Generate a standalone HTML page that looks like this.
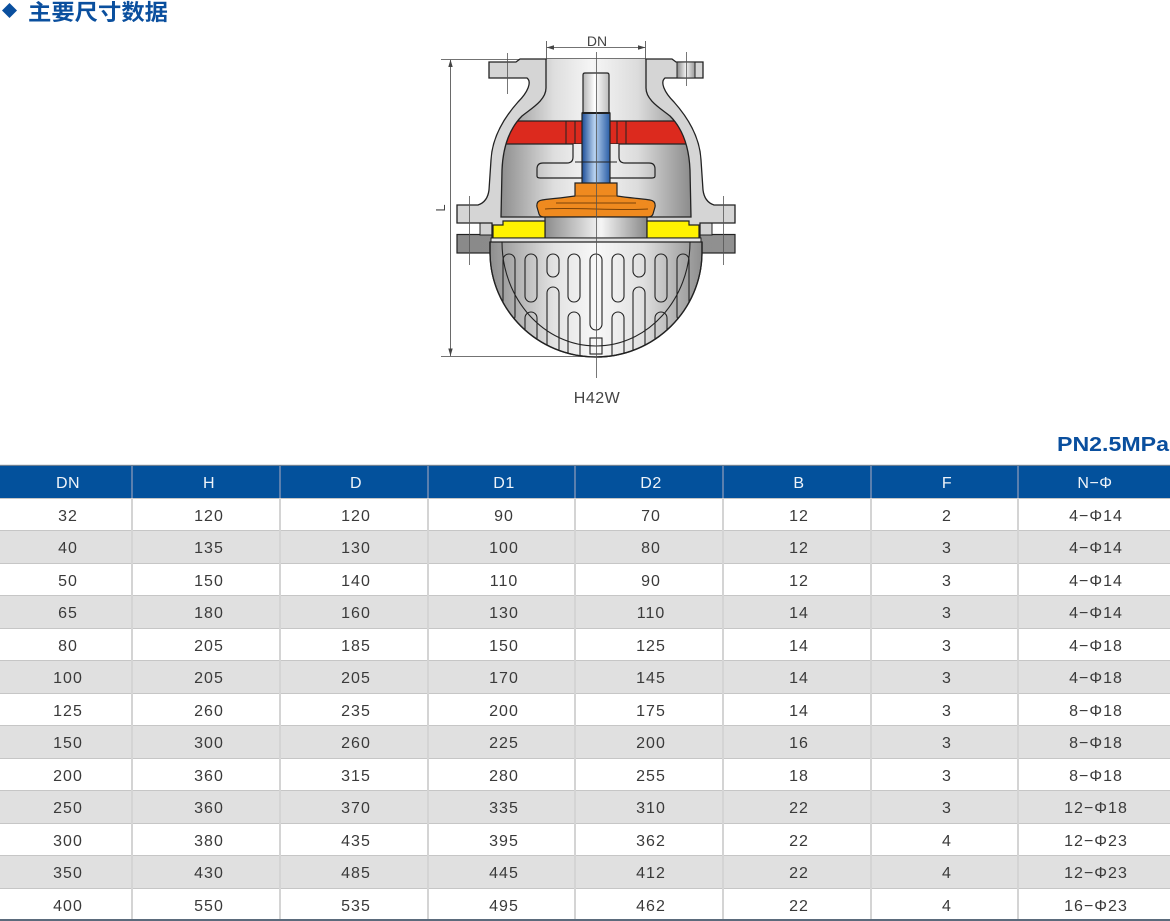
<!DOCTYPE html>
<html><head><meta charset="utf-8"><style>
html,body{margin:0;padding:0;background:#fff;width:1170px;height:921px;overflow:hidden}
svg{display:block}
</style></head><body>
<svg width="1170" height="921" viewBox="0 0 1170 921" xmlns="http://www.w3.org/2000/svg">
<defs>
<linearGradient id="gi" gradientUnits="userSpaceOnUse" x1="501" y1="0" x2="691" y2="0">
<stop offset="0" stop-color="#8e8e8e"/><stop offset="0.28" stop-color="#dedede"/><stop offset="0.48" stop-color="#f6f6f6"/><stop offset="0.72" stop-color="#dcdcdc"/><stop offset="1" stop-color="#8c8c8c"/>
</linearGradient>
<linearGradient id="gb" gradientUnits="userSpaceOnUse" x1="490" y1="0" x2="702" y2="0">
<stop offset="0" stop-color="#8e8e8e"/><stop offset="0.3" stop-color="#e2e2e2"/><stop offset="0.5" stop-color="#f8f8f8"/><stop offset="0.72" stop-color="#e0e0e0"/><stop offset="1" stop-color="#8e8e8e"/>
</linearGradient>
<linearGradient id="gs" gradientUnits="userSpaceOnUse" x1="545" y1="0" x2="647" y2="0">
<stop offset="0" stop-color="#8c8c8c"/><stop offset="0.55" stop-color="#f5f5f5"/><stop offset="1" stop-color="#888888"/>
</linearGradient>
<linearGradient id="gw" gradientUnits="userSpaceOnUse" x1="583" y1="0" x2="609" y2="0">
<stop offset="0" stop-color="#b5b5b5"/><stop offset="0.45" stop-color="#ffffff"/><stop offset="1" stop-color="#bdbdbd"/>
</linearGradient>
<linearGradient id="gbl" gradientUnits="userSpaceOnUse" x1="582" y1="0" x2="610" y2="0">
<stop offset="0" stop-color="#1c4d97"/><stop offset="0.45" stop-color="#b8d2ef"/><stop offset="1" stop-color="#2a5ea7"/>
</linearGradient>
<linearGradient id="gh" gradientUnits="userSpaceOnUse" x1="677" y1="0" x2="695" y2="0">
<stop offset="0" stop-color="#8a8a8a"/><stop offset="0.5" stop-color="#f2f2f2"/><stop offset="1" stop-color="#9a9a9a"/>
</linearGradient>
<linearGradient id="gd" gradientUnits="userSpaceOnUse" x1="457" y1="0" x2="735" y2="0">
<stop offset="0" stop-color="#8a8a8a"/><stop offset="1" stop-color="#909090"/>
</linearGradient>
<clipPath id="ci"><path d="M546,59 L546,88 C546,100 532,108 522,116 C510,128 503,145 502,170 L501,217 L691,217 L690,170 C689,145 682,128 670,116 C660,108 646,100 646,88 L646,59 Z"/></clipPath>
<clipPath id="cb"><path d="M490,242 L490,252 C490,310 537.5,357 596,357 C654.5,357 702,310 702,252 L702,242 Z"/></clipPath>
</defs>

<!-- Title -->
<rect x="4.2" y="5.2" width="10.6" height="10.6" transform="rotate(45 9.5 10.5)" fill="#0a4f9e"/>
<text x="28" y="20" font-size="22" font-weight="bold" fill="#0a4f9e" textLength="140" lengthAdjust="spacingAndGlyphs" font-family="'Liberation Sans','Noto Sans CJK SC',sans-serif">主要尺寸数据</text>

<!-- L dimension -->
<g stroke="#444" stroke-width="0.8" fill="none">
<line x1="441" y1="59.5" x2="548" y2="59.5"/>
<line x1="450.5" y1="60" x2="450.5" y2="356"/>
<line x1="441" y1="356.5" x2="600" y2="356.5"/>
</g>
<polygon points="450.5,59.5 448.3,67 452.7,67" fill="#444"/>
<polygon points="450.5,356 448.3,348.5 452.7,348.5" fill="#444"/>
<text x="445" y="208" font-size="13" fill="#444" transform="rotate(-90 445 208)" text-anchor="middle" font-family="'Liberation Sans',sans-serif">L</text>

<!-- dark lower flange -->
<rect x="457" y="234.5" width="278" height="18.5" fill="url(#gd)" stroke="#222" stroke-width="1.2"/>
<rect x="480" y="222" width="12" height="13" fill="#d3d3d3" stroke="#222" stroke-width="1"/>
<rect x="700" y="222" width="12" height="13" fill="#d3d3d3" stroke="#222" stroke-width="1"/>

<!-- outer wall -->
<path d="M489,62 L516,62 L520,59 L672,59 L676,62 L703,62 L703,78 L665,78 C660,82 664,92 674,102 C690,120 700,140 701,160 L703,190 C704,198 708,203 714,205 L735,205 L735,223 L700,223 L700,238 L492,238 L492,223 L457,223 L457,205 L478,205 C484,203 488,198 489,190 L491,160 C492,140 502,120 518,102 C528,92 532,82 527,78 L489,78 Z" fill="#d5d5d5" stroke="#222" stroke-width="1.3"/>

<!-- interior -->
<path d="M546,59 L546,88 C546,100 532,108 522,116 C510,128 503,145 502,170 L501,217 L691,217 L690,170 C689,145 682,128 670,116 C660,108 646,100 646,88 L646,59 Z" fill="url(#gi)"/>
<g clip-path="url(#ci)">
<rect x="480" y="121" width="232" height="23" fill="#dc2a1e"/>
<line x1="480" y1="121" x2="712" y2="121" stroke="#222" stroke-width="1.2"/>
<line x1="480" y1="144" x2="712" y2="144" stroke="#222" stroke-width="1.2"/>
</g>
<g stroke="#222" stroke-width="1">
<line x1="566" y1="121" x2="566" y2="144"/><line x1="575" y1="121" x2="575" y2="144"/>
<line x1="617" y1="121" x2="617" y2="144"/><line x1="626" y1="121" x2="626" y2="144"/>
</g>
<path d="M546,59 L546,88 C546,100 532,108 522,116 C510,128 503,145 502,170 L501,217 L691,217 L690,170 C689,145 682,128 670,116 C660,108 646,100 646,88 L646,59" fill="none" stroke="#222" stroke-width="1.3"/>

<!-- bracket -->
<path d="M573,144 L573,157 Q573,163 567,163 L543,163 Q537,163 537,169 L537,176 Q537,178 540,178 L652,178 Q655,178 655,176 L655,169 Q655,163 649,163 L625,163 Q619,163 619,157 L619,144" fill="url(#gi)" stroke="#222" stroke-width="1.2"/>

<!-- stem -->
<path d="M583,113 L583,75 Q583,73 585,73 L607,73 Q609,73 609,75 L609,113 Z" fill="url(#gw)" stroke="#222" stroke-width="1.2"/>
<rect x="582" y="113" width="28" height="71" fill="url(#gbl)" stroke="#222" stroke-width="1.2"/>
<line x1="582" y1="113" x2="610" y2="113" stroke="#222" stroke-width="2"/>
<line x1="575" y1="162" x2="617" y2="162" stroke="#222" stroke-width="1"/>

<!-- orange disc -->
<path d="M575,183 L617,183 L617,196 C630,198 645,199 650,200 Q656,201 655,207 L653,214 Q652,217 648,217 L544,217 Q540,217 539,214 L537,207 Q536,201 542,200 C547,199 562,198 575,196 Z" fill="#ef8a1f" stroke="#222" stroke-width="1.2"/>
<path d="M556,203 L636,203" stroke="#7a4208" stroke-width="1"/>
<path d="M545,209 C570,207 620,211 648,209" stroke="#7a4208" stroke-width="1" fill="none"/>
<line x1="575" y1="196" x2="617" y2="196" stroke="#7a4208" stroke-width="0.8"/>

<!-- seat cylinder -->
<rect x="545" y="217" width="102" height="21" fill="url(#gs)" stroke="#222" stroke-width="1.2"/>
<path d="M493,225 L503,225 L503,221 L545,221 L545,238 L493,238 Z" fill="#fff200" stroke="#222" stroke-width="1.2"/>
<path d="M699,225 L689,225 L689,221 L647,221 L647,238 L699,238 Z" fill="#fff200" stroke="#222" stroke-width="1.2"/>
<rect x="491" y="238" width="210" height="4" fill="#e4e4e4" stroke="#222" stroke-width="1"/>

<!-- bowl -->
<path d="M490,242 L490,252 C490,310 537.5,357 596,357 C654.5,357 702,310 702,252 L702,242 Z" fill="url(#gb)" stroke="#222" stroke-width="1.3"/>
<g clip-path="url(#cb)" fill="none" stroke="#222" stroke-width="1.1">
<path d="M502,242 C502,299 544,346 596,346 C648,346 690,299 690,242"/>
<rect x="503" y="254" width="12" height="68" rx="6"/>
<rect x="677" y="254" width="12" height="68" rx="6"/>
<rect x="525" y="254" width="12" height="48" rx="6"/>
<rect x="655" y="254" width="12" height="48" rx="6"/>
<rect x="547" y="254" width="12" height="23" rx="6"/>
<rect x="633" y="254" width="12" height="23" rx="6"/>
<rect x="568" y="254" width="12" height="48" rx="6"/>
<rect x="612" y="254" width="12" height="48" rx="6"/>
<rect x="590" y="254" width="12" height="76" rx="6"/>
<path d="M505,372 V336 A6,6 0 0 1 517,336 V372"/>
<path d="M675,372 V336 A6,6 0 0 1 687,336 V372"/>
<path d="M525,372 V318 A6,6 0 0 1 537,318 V372"/>
<path d="M655,372 V318 A6,6 0 0 1 667,318 V372"/>
<path d="M547,372 V293 A6,6 0 0 1 559,293 V372"/>
<path d="M633,372 V293 A6,6 0 0 1 645,293 V372"/>
<path d="M568,372 V318 A6,6 0 0 1 580,318 V372"/>
<path d="M612,372 V318 A6,6 0 0 1 624,318 V372"/>
<rect x="590" y="338" width="12" height="16"/>
</g>
<path d="M490,242 L490,252 C490,310 537.5,357 596,357 C654.5,357 702,310 702,252 L702,242" fill="none" stroke="#222" stroke-width="1.3"/>

<!-- right bolt hole -->
<rect x="677" y="62" width="18" height="16" fill="url(#gh)" stroke="#222" stroke-width="1"/>

<!-- centerlines -->
<g stroke="#555" stroke-width="0.8">
<line x1="596.5" y1="52" x2="596.5" y2="378"/>
<line x1="507.5" y1="53" x2="507.5" y2="94"/>
<line x1="686.5" y1="52" x2="686.5" y2="86"/>
<line x1="469.5" y1="196" x2="469.5" y2="265"/>
<line x1="723.5" y1="196" x2="723.5" y2="265"/>
</g>

<!-- DN dimension -->
<g stroke="#444" stroke-width="0.8">
<line x1="546.5" y1="41" x2="546.5" y2="60"/>
<line x1="645.5" y1="41" x2="645.5" y2="60"/>
<line x1="547" y1="47.5" x2="645" y2="47.5"/>
</g>
<polygon points="546.5,47.5 554,45.3 554,49.7" fill="#444"/>
<polygon points="645.5,47.5 638,45.3 638,49.7" fill="#444"/>
<text x="597" y="46" font-size="14" fill="#444" text-anchor="middle" font-family="'Liberation Sans',sans-serif">DN</text>

<text x="597" y="403" font-size="16" fill="#444" text-anchor="middle" letter-spacing="0.5" font-family="'Liberation Sans',sans-serif">H42W</text>

<!-- PN label -->
<text x="1057" y="451" font-size="20.5" font-weight="bold" fill="#0a4f9e" textLength="112" lengthAdjust="spacingAndGlyphs" font-family="'Liberation Sans',sans-serif">PN2.5MPa</text>

<!-- Table header -->
<rect x="0" y="464.8" width="1170" height="1.6" fill="#6d7f92"/>
<rect x="0" y="466" width="1170" height="32" fill="#03519c"/>
<g fill="#5a7fae">
<rect x="131" y="466" width="2" height="32"/><rect x="279" y="466" width="2" height="32"/><rect x="427" y="466" width="2" height="32"/><rect x="574" y="466" width="2" height="32"/><rect x="722" y="466" width="2" height="32"/><rect x="870" y="466" width="2" height="32"/><rect x="1017" y="466" width="2" height="32"/>
</g>
<g fill="#eef3f9" font-size="16" text-anchor="middle" font-family="'Liberation Sans',sans-serif" letter-spacing="0.5">
<text x="68" y="488">DN</text><text x="209" y="488">H</text><text x="356" y="488">D</text><text x="504" y="488">D1</text><text x="651" y="488">D2</text><text x="799" y="488">B</text><text x="947" y="488">F</text><text x="1095" y="488">N−Φ</text>
</g>

<!-- Table body backgrounds -->
<g fill="#e0e0e0">
<rect x="0" y="530" width="1170" height="33"/>
<rect x="0" y="595" width="1170" height="33"/>
<rect x="0" y="660" width="1170" height="33"/>
<rect x="0" y="725" width="1170" height="33"/>
<rect x="0" y="790" width="1170" height="33"/>
<rect x="0" y="855" width="1170" height="33"/>
</g>
<g fill="#c6c6c6">
<rect x="0" y="498" width="1170" height="1"/>
<rect x="0" y="530" width="1170" height="1"/><rect x="0" y="563" width="1170" height="1"/><rect x="0" y="595" width="1170" height="1"/><rect x="0" y="628" width="1170" height="1"/><rect x="0" y="660" width="1170" height="1"/><rect x="0" y="693" width="1170" height="1"/><rect x="0" y="725" width="1170" height="1"/><rect x="0" y="758" width="1170" height="1"/><rect x="0" y="790" width="1170" height="1"/><rect x="0" y="823" width="1170" height="1"/><rect x="0" y="855" width="1170" height="1"/><rect x="0" y="888" width="1170" height="1"/>
</g>
<g fill="#d4d4d4">
<rect x="131" y="498" width="2" height="421"/><rect x="279" y="498" width="2" height="421"/><rect x="427" y="498" width="2" height="421"/><rect x="574" y="498" width="2" height="421"/><rect x="722" y="498" width="2" height="421"/><rect x="870" y="498" width="2" height="421"/><rect x="1017" y="498" width="2" height="421"/>
</g>
<rect x="0" y="919" width="1170" height="2" fill="#5b6b7c"/>

<g fill="#3a3a3a" font-size="16" text-anchor="middle" font-family="'Liberation Sans',sans-serif" letter-spacing="1">
<text x="68" y="521">32</text><text x="209" y="521">120</text><text x="356" y="521">120</text><text x="504" y="521">90</text><text x="651" y="521">70</text><text x="799" y="521">12</text><text x="947" y="521">2</text><text x="1096" y="521">4−Φ14</text>
<text x="68" y="553">40</text><text x="209" y="553">135</text><text x="356" y="553">130</text><text x="504" y="553">100</text><text x="651" y="553">80</text><text x="799" y="553">12</text><text x="947" y="553">3</text><text x="1096" y="553">4−Φ14</text>
<text x="68" y="586">50</text><text x="209" y="586">150</text><text x="356" y="586">140</text><text x="504" y="586">110</text><text x="651" y="586">90</text><text x="799" y="586">12</text><text x="947" y="586">3</text><text x="1096" y="586">4−Φ14</text>
<text x="68" y="618">65</text><text x="209" y="618">180</text><text x="356" y="618">160</text><text x="504" y="618">130</text><text x="651" y="618">110</text><text x="799" y="618">14</text><text x="947" y="618">3</text><text x="1096" y="618">4−Φ14</text>
<text x="68" y="651">80</text><text x="209" y="651">205</text><text x="356" y="651">185</text><text x="504" y="651">150</text><text x="651" y="651">125</text><text x="799" y="651">14</text><text x="947" y="651">3</text><text x="1096" y="651">4−Φ18</text>
<text x="68" y="683">100</text><text x="209" y="683">205</text><text x="356" y="683">205</text><text x="504" y="683">170</text><text x="651" y="683">145</text><text x="799" y="683">14</text><text x="947" y="683">3</text><text x="1096" y="683">4−Φ18</text>
<text x="68" y="716">125</text><text x="209" y="716">260</text><text x="356" y="716">235</text><text x="504" y="716">200</text><text x="651" y="716">175</text><text x="799" y="716">14</text><text x="947" y="716">3</text><text x="1096" y="716">8−Φ18</text>
<text x="68" y="748">150</text><text x="209" y="748">300</text><text x="356" y="748">260</text><text x="504" y="748">225</text><text x="651" y="748">200</text><text x="799" y="748">16</text><text x="947" y="748">3</text><text x="1096" y="748">8−Φ18</text>
<text x="68" y="781">200</text><text x="209" y="781">360</text><text x="356" y="781">315</text><text x="504" y="781">280</text><text x="651" y="781">255</text><text x="799" y="781">18</text><text x="947" y="781">3</text><text x="1096" y="781">8−Φ18</text>
<text x="68" y="813">250</text><text x="209" y="813">360</text><text x="356" y="813">370</text><text x="504" y="813">335</text><text x="651" y="813">310</text><text x="799" y="813">22</text><text x="947" y="813">3</text><text x="1096" y="813">12−Φ18</text>
<text x="68" y="846">300</text><text x="209" y="846">380</text><text x="356" y="846">435</text><text x="504" y="846">395</text><text x="651" y="846">362</text><text x="799" y="846">22</text><text x="947" y="846">4</text><text x="1096" y="846">12−Φ23</text>
<text x="68" y="878">350</text><text x="209" y="878">430</text><text x="356" y="878">485</text><text x="504" y="878">445</text><text x="651" y="878">412</text><text x="799" y="878">22</text><text x="947" y="878">4</text><text x="1096" y="878">12−Φ23</text>
<text x="68" y="911">400</text><text x="209" y="911">550</text><text x="356" y="911">535</text><text x="504" y="911">495</text><text x="651" y="911">462</text><text x="799" y="911">22</text><text x="947" y="911">4</text><text x="1096" y="911">16−Φ23</text>
</g>
</svg>
</body></html>
